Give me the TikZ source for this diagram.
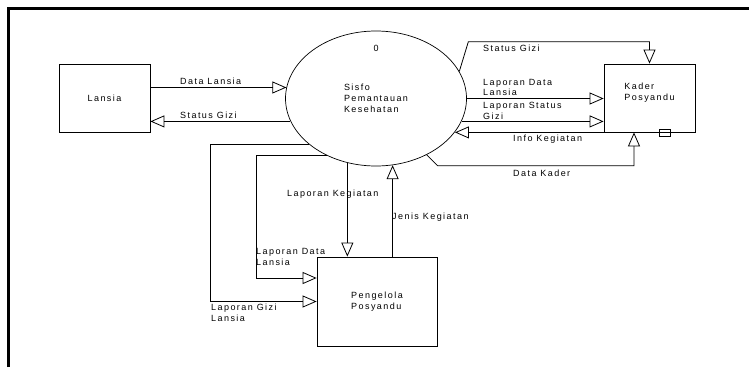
\documentclass[tikz,border=0pt]{standalone}
\usepackage{fontspec}
\setmainfont{Liberation Sans}[LetterSpace=16]
\usetikzlibrary{arrows.meta,positioning,shapes.geometric}

\begin{document}
\begin{tikzpicture}[
    x=1pt, y=-1pt,
    every node/.style={font=\fontsize{9}{10.8}\selectfont, inner sep=0pt},
    entity/.style={draw=black, align=left, minimum width=91pt, minimum height=68pt,
                   line width=0.8pt},
    process/.style={draw=black, ellipse, align=left, minimum width=181pt,
                    minimum height=135pt, line width=0.7pt},
    store/.style={draw=black, minimum width=11pt, minimum height=7pt, line width=0.7pt},
    lbl/.style={anchor=west, align=left},
    flow/.style={-{Triangle[open,length=14pt,width=12pt]}, line width=0.8pt, draw=black},
]
\useasboundingbox (0,0) rectangle (749,367);

% Frame
\draw[line width=2.4pt] (8.5,367) -- (8.5,8.5) -- (749,8.5);

% Entities and process
\node[entity]  (lansia)    at (104.5,98)  {Lansia};
\node[entity]  (kader)     at (649.5,98)  {};
\node[align=left] (kadertext) [yshift=5pt] at (kader.center) {Kader\\Posyandu};
\node[entity, minimum width=120pt, minimum height=89pt]
               (pengelola) at (377,301.5) {Pengelola\\Posyandu};
\node[process] (proc)      at (376,98.5)  {Sisfo\\Pemantauan\\Kesehatan};
\node          (procid)    [below=14pt of proc.north] {0};
\node[store]   (kaderstore) [xshift=15pt] at (kader.south) {};

% Flow labels
\node[lbl] (lblDataLansia)  at (180,81)    {Data Lansia};
\node[lbl] (lblGiziLansia)  at (180,115)   {Status Gizi};
\node[lbl] (lblGiziKader)   at (483,48)    {Status Gizi};
\node[lbl] (lblLapData)     at (483,87.5)  {Laporan Data\\Lansia};
\node[lbl] (lblLapStatus)   at (483,110.5) {Laporan Status\\Gizi};
\node[lbl] (lblInfo)        at (513,139)   {Info Kegiatan};
\node[lbl] (lblDataKader)   at (513,173)   {Data Kader};
\node[lbl] (lblLapKeg)      at (287,194)   {Laporan Kegiatan};
\node[lbl] (lblJenis)       at (392,217.5) {Jenis Kegiatan};
\node[lbl] (lblLapDataPeng) at (256,257)   {Laporan Data\\Lansia};
\node[lbl] (lblLapGizi)     at (211,313)   {Laporan Gizi\\Lansia};

% Lansia <-> process
\draw[flow] (proc.173 -| lansia.east) -- (proc.173);
\draw[flow] (proc.195) -- (proc.195 -| lansia.east);

% Process <-> Kader Posyandu
\draw[flow] (proc.18) -- ++(9,-29.6) -| (kader.north);
\draw[flow] (proc.east) -- (proc.east -| kader.west);
\draw[flow] (proc.345) -- (proc.345 -| kader.west);
\draw[flow] (kader.south east) -- (proc.337 |- kader.south);
\draw[flow] (proc.312) -- ++(11,11) -| ([xshift=-15.5pt]kader.south);

% Process <-> Pengelola Posyandu
\draw[flow] (proc.246) -- (proc.246 |- pengelola.north);
\draw[flow] (proc.284 |- pengelola.north) -- (proc.284);
\draw[flow] (proc.229) -- ++(-70.5,0) |- ([yshift=23.5pt]pengelola.west);
\draw[flow] (proc.214) -- ++(-98,0) |- (pengelola.west);
\end{tikzpicture}
\end{document}
